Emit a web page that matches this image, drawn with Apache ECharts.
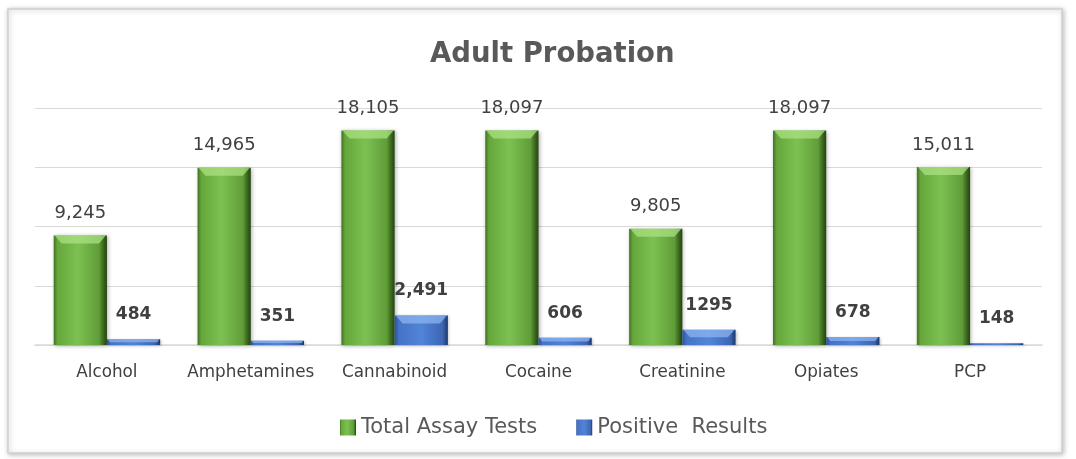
<!DOCTYPE html>
<html>
<head>
<meta charset="utf-8">
<style>
  html, body { margin: 0; padding: 0; background: #ffffff; }
  #chart { width: 1076px; height: 459px; }
</style>
<script src="https://cdn.jsdelivr.net/npm/echarts@6/dist/echarts.min.js"></script>
</head>
<body>
<div id="chart"></div>
<script>
// Drug test counts by substance
const categories = ['Alcohol', 'Amphetamines', 'Cannabinoid', 'Cocaine', 'Creatinine', 'Opiates', 'PCP'];
const totalAssayTests = [9245, 14965, 18105, 18097, 9805, 18097, 15011];
const positiveResults = [484, 351, 2491, 606, 1295, 678, 148];
const positiveLabels = ['484', '351', '2,491', '606', '1295', '678', '148'];
const seriesNames = ['Total Assay Tests', 'Positive  Results'];

const FONT = '"DejaVu Sans", "Open Sans", sans-serif';
const TEXT = '#404040';
const CATEGORY_GAP = 0.26;

// Bevelled look: dark edges, lighter middle
const greenFill = new echarts.graphic.LinearGradient(0, 0, 1, 0, [
  { offset: 0, color: '#3f7320' },
  { offset: 0.07, color: '#66a63c' },
  { offset: 0.45, color: '#7dc152' },
  { offset: 0.85, color: '#609d38' },
  { offset: 0.93, color: '#3c6a1f' },
  { offset: 1, color: '#24440f' }
]);
const blueFill = new echarts.graphic.LinearGradient(0, 0, 1, 0, [
  { offset: 0, color: '#2c5296' },
  { offset: 0.08, color: '#4573c6' },
  { offset: 0.5, color: '#5184d8' },
  { offset: 0.9, color: '#3d66b3' },
  { offset: 1, color: '#1c3769' }
]);

// Light top facet drawn over each bar (side: -1 = left bar of the pair, 0 = right bar)
function bevelRenderer(side, fill) {
  return function (params, api) {
    const idx = api.value(0);
    const top = api.coord([idx, api.value(1)]);
    const base = api.coord([idx, 0]);
    const band = api.size([1, 0])[0];
    const bw = band * (1 - CATEGORY_GAP) / 2;
    const left = top[0] + side * bw;
    const right = left + bw;
    const h = base[1] - top[1];
    const b = Math.min(8, h / 2);
    if (b < 1.5) return null;
    return {
      type: 'polygon',
      shape: {
        points: [
          [left + 1, top[1]], [right - 1, top[1]],
          [right - b, top[1] + b], [left + b, top[1] + b]
        ]
      },
      style: { fill: fill },
      silent: true
    };
  };
}

const chart = echarts.init(document.getElementById('chart'), null, { renderer: 'canvas' });

chart.setOption({
  backgroundColor: '#ffffff',
  animation: false,
  textStyle: { fontFamily: FONT },
  graphic: [{
    type: 'rect',
    z: -10,
    shape: { x: 8, y: 9, width: 1054, height: 444 },
    style: {
      fill: '#ffffff',
      stroke: '#d0d0d0',
      lineWidth: 1.5,
      shadowBlur: 5,
      shadowColor: 'rgba(0,0,0,0.25)',
      shadowOffsetX: 1,
      shadowOffsetY: 1
    }
  }],
  title: {
    text: 'Adult Probation',
    left: 425,
    top: 36,
    textStyle: { fontFamily: FONT, fontSize: 27.5, fontWeight: 'bold', color: '#595959' }
  },
  legend: {
    data: seriesNames,
    left: 335,
    top: 412,
    itemWidth: 16,
    itemHeight: 16,
    itemGap: 39,
    icon: 'rect',
    textStyle: { fontFamily: FONT, fontSize: 21, color: '#595959' }
  },
  grid: { left: 35, right: 34, top: 108, bottom: 114, containLabel: false },
  xAxis: {
    type: 'category',
    data: categories,
    axisTick: { show: false },
    axisLine: { lineStyle: { color: '#d9d9d9', width: 1.5 } },
    axisLabel: { fontFamily: FONT, fontSize: 16.8, color: TEXT, margin: 19, interval: 0 }
  },
  yAxis: {
    type: 'value',
    min: 0,
    max: 20000,
    interval: 5000,
    axisLabel: { show: false },
    axisLine: { show: false },
    axisTick: { show: false },
    splitLine: { lineStyle: { color: '#d9d9d9', width: 1.2 } }
  },
  series: [
    {
      name: seriesNames[0],
      type: 'bar',
      data: totalAssayTests,
      barGap: '0%',
      barCategoryGap: (CATEGORY_GAP * 100) + '%',
      itemStyle: {
        color: greenFill,
        shadowBlur: 4,
        shadowColor: 'rgba(0,0,0,0.3)',
        shadowOffsetX: 1,
        shadowOffsetY: 1
      },
      label: {
        show: true,
        position: 'top',
        distance: 13,
        fontFamily: FONT,
        fontSize: 18,
        color: TEXT,
        formatter: p => p.value.toLocaleString('en-US')
      }
    },
    {
      name: seriesNames[1],
      type: 'bar',
      data: positiveResults,
      itemStyle: {
        color: blueFill,
        shadowBlur: 3,
        shadowColor: 'rgba(0,0,0,0.25)',
        shadowOffsetX: 1,
        shadowOffsetY: 1
      },
      label: {
        show: true,
        position: 'top',
        distance: 16,
        fontFamily: FONT,
        fontSize: 17,
        fontWeight: 'bold',
        color: TEXT,
        formatter: p => positiveLabels[p.dataIndex]
      }
    },
    {
      name: 'greenBevel',
      type: 'custom',
      z: 5,
      silent: true,
      data: totalAssayTests.map((v, i) => [i, v]),
      renderItem: bevelRenderer(-1, 'rgba(170, 225, 130, 0.75)')
    },
    {
      name: 'blueBevel',
      type: 'custom',
      z: 5,
      silent: true,
      data: positiveResults.map((v, i) => [i, v]),
      renderItem: bevelRenderer(0, 'rgba(140, 180, 240, 0.75)')
    }
  ]
});
</script>
</body>
</html>
